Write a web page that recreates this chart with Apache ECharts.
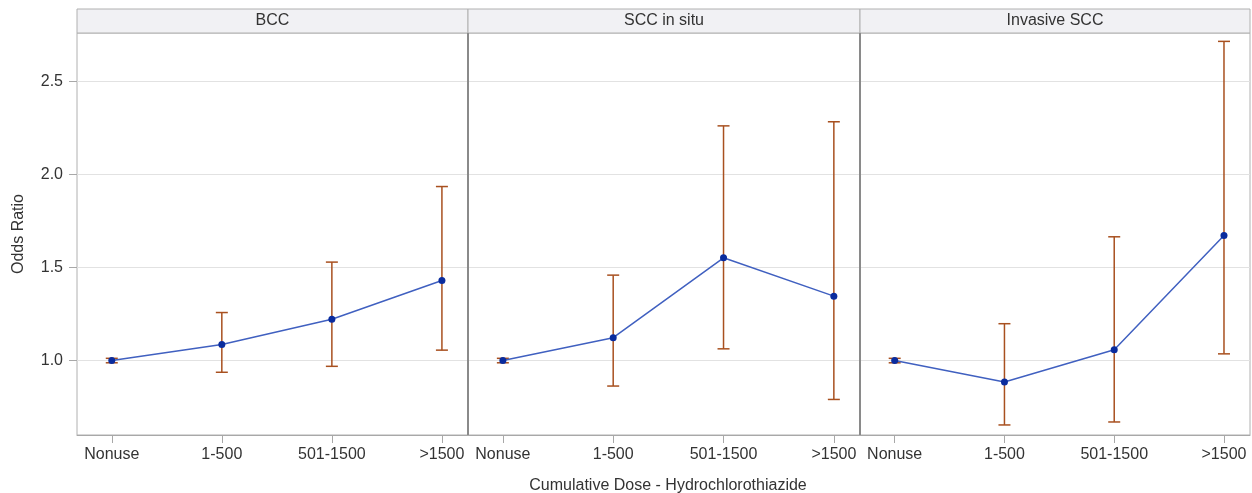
<!DOCTYPE html>
<html>
<head>
<meta charset="utf-8">
<script src="https://cdn.jsdelivr.net/npm/echarts@6/dist/echarts.min.js"></script>
<style>
  html, body { margin: 0; padding: 0; background: #fff; }
  #chart { width: 1252px; height: 493px; }
</style>
</head>
<body>
<div id="chart"></div>
<script>
// dose groups on the x axis
const categories = ['Nonuse', '1-500', '501-1500', '>1500']
const panels = ['BCC', 'SCC in situ', 'Invasive SCC']
const yTicks = [1.0, 1.5, 2.0, 2.5]

// odds ratios and 95% CI
const bccOR = [1.00, 1.086, 1.222, 1.430]
const bccLow = [0.988, 0.937, 0.969, 1.056]
const bccHigh = [1.012, 1.258, 1.529, 1.935]

const sccInSituOR = [1.00, 1.123, 1.552, 1.346]
const sccInSituLow = [0.988, 0.863, 1.063, 0.791]
const sccInSituHigh = [1.012, 1.459, 2.261, 2.283]

const invasiveOR = [1.00, 0.885, 1.058, 1.672]
const invasiveLow = [0.988, 0.654, 0.670, 1.036]
const invasiveHigh = [1.012, 1.198, 1.665, 2.715]

const panelData = [
  [bccOR, bccLow, bccHigh],
  [sccInSituOR, sccInSituLow, sccInSituHigh],
  [invasiveOR, invasiveLow, invasiveHigh]
]

const FONT = '"Liberation Sans", Arial, sans-serif'
const panelX = [77, 468, 860, 1250]
const plotTop = 33
const plotBottom = 435

let chart = echarts.init(document.getElementById('chart'))

let grids = [], xAxes = [], yAxes = [], series = [], graphics = []

panels.forEach(function (name, i) {
  grids.push({
    left: panelX[i],
    width: panelX[i + 1] - panelX[i],
    top: plotTop,
    height: plotBottom - plotTop,
    show: true,
    borderColor: '#b0b0b0',
    borderWidth: 1
  })
  xAxes.push({
    type: 'value',
    gridIndex: i,
    min: -0.316,
    max: 3.237,
    axisLine: { show: true, onZero: false, lineStyle: { color: '#a8a8a8', width: 1 } },
    axisTick: {
      show: true, length: 8, customValues: [0, 1, 2, 3],
      lineStyle: { color: '#a8a8a8' }
    },
    axisLabel: {
      customValues: [0, 1, 2, 3],
      margin: 12,
      color: '#333',
      fontSize: 16,
      fontFamily: FONT,
      formatter: function (v) { return categories[Math.round(v)] }
    },
    splitLine: { show: false }
  })
  yAxes.push({
    type: 'value',
    gridIndex: i,
    min: 0.6,
    max: 2.76,
    axisLine: { show: false, onZero: false },
    axisTick: {
      show: i === 0, length: 8, customValues: yTicks,
      lineStyle: { color: '#a8a8a8' }
    },
    axisLabel: {
      show: i === 0,
      customValues: yTicks,
      margin: 14,
      color: '#333',
      fontSize: 16,
      fontFamily: FONT,
      formatter: function (v) { return v.toFixed(1) }
    },
    splitLine: { show: true, lineStyle: { color: '#e2e2e2', width: 1 } },
    name: i === 0 ? 'Odds Ratio' : '',
    nameLocation: 'middle',
    nameGap: 50,
    nameRotate: 90,
    nameTextStyle: { color: '#333', fontSize: 16, fontFamily: FONT }
  })

  const d = panelData[i]
  series.push({
    type: 'custom',
    xAxisIndex: i,
    yAxisIndex: i,
    z: 2,
    data: categories.map(function (c, k) { return [k, d[1][k], d[2][k]] }),
    encode: { x: 0, y: [1, 2] },
    renderItem: function (params, api) {
      const top = api.coord([api.value(0), api.value(2)])
      const bot = api.coord([api.value(0), api.value(1)])
      const half = 6
      const style = { stroke: '#a8501f', lineWidth: 1.5 }
      return {
        type: 'group',
        children: [
          { type: 'line', shape: { x1: top[0], y1: top[1], x2: bot[0], y2: bot[1] }, style: style },
          { type: 'line', shape: { x1: top[0] - half, y1: top[1], x2: top[0] + half, y2: top[1] }, style: style },
          { type: 'line', shape: { x1: bot[0] - half, y1: bot[1], x2: bot[0] + half, y2: bot[1] }, style: style }
        ]
      }
    }
  })
  series.push({
    type: 'line',
    xAxisIndex: i,
    yAxisIndex: i,
    z: 3,
    data: categories.map(function (c, k) { return [k, d[0][k]] }),
    symbol: 'circle',
    symbolSize: 7,
    lineStyle: { color: '#4060c0', width: 1.5 },
    itemStyle: { color: '#0a2c9e' }
  })

  // panel header strip
  graphics.push({
    type: 'rect',
    shape: { x: panelX[i], y: 9, width: panelX[i + 1] - panelX[i], height: plotTop - 9 },
    style: { fill: '#f1f1f4', stroke: '#b0b0b0', lineWidth: 1 },
    z: 10
  })
  graphics.push({
    type: 'text',
    x: (panelX[i] + panelX[i + 1]) / 2,
    y: 21,
    style: {
      text: name, fill: '#333', font: '16px ' + FONT,
      textAlign: 'center', textVerticalAlign: 'middle'
    },
    z: 11
  })
})

// darker separators between panels
;[1, 2].forEach(function (k) {
  graphics.push({
    type: 'line',
    shape: { x1: panelX[k], y1: plotTop, x2: panelX[k], y2: plotBottom },
    style: { stroke: '#8a8a8a', lineWidth: 2 },
    z: 10
  })
})

chart.setOption({
  backgroundColor: '#fff',
  animation: false,
  title: {
    text: 'Cumulative Dose - Hydrochlorothiazide',
    left: 663,
    textAlign: 'center',
    top: 473,
    textStyle: { color: '#333', fontSize: 16, fontWeight: 'normal', fontFamily: FONT }
  },
  grid: grids,
  xAxis: xAxes,
  yAxis: yAxes,
  series: series,
  graphic: graphics
})
</script>
</body>
</html>
